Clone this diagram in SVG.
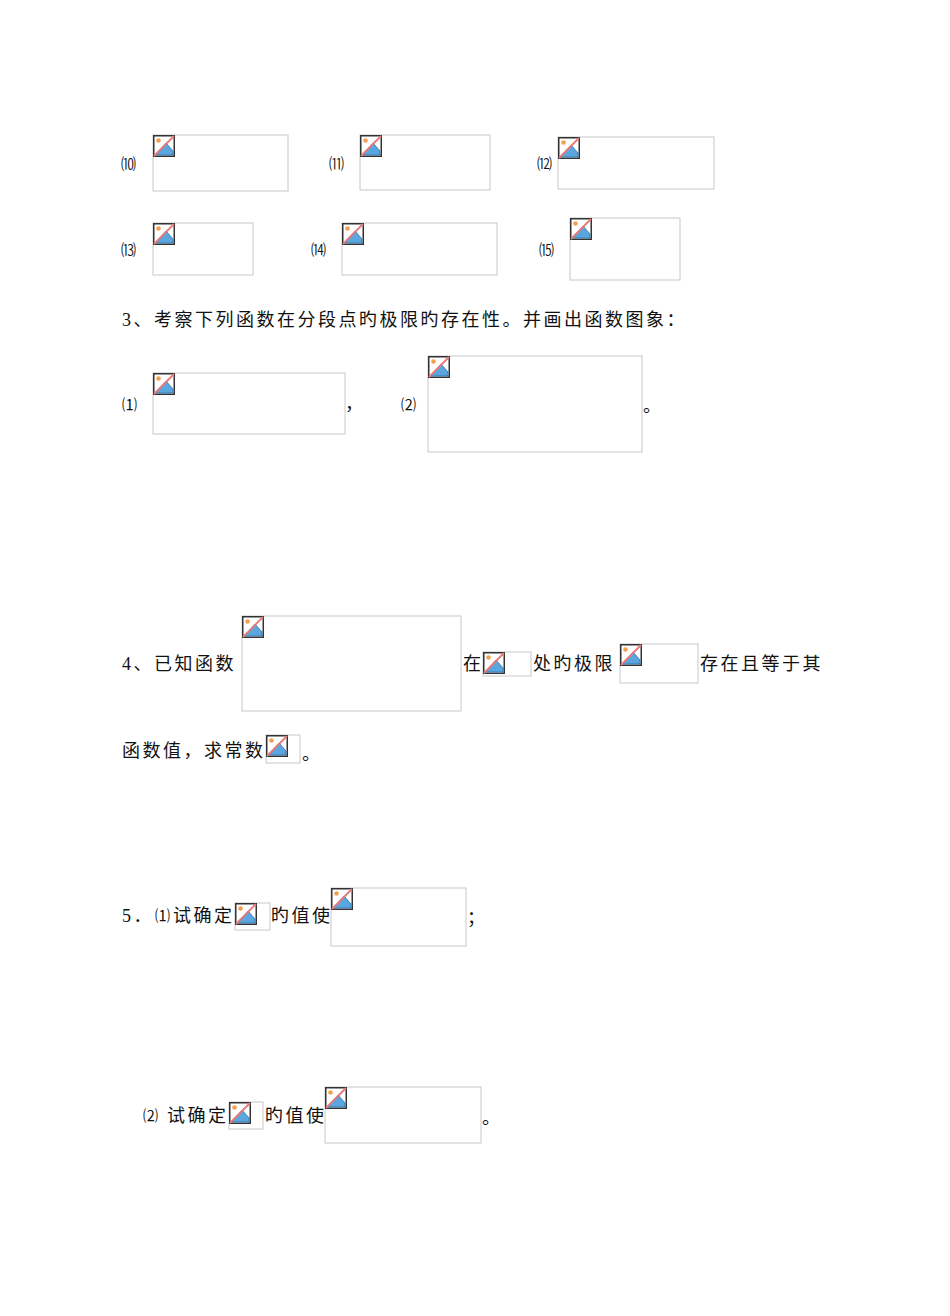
<svg xmlns="http://www.w3.org/2000/svg" xmlns:xlink="http://www.w3.org/1999/xlink" width="950" height="1316" viewBox="0 0 950 1316">
<style>
.b{fill:#fff;stroke:#c8c8c8;stroke-width:1}
.t{font-family:"Liberation Serif","Noto Sans CJK SC",serif;font-size:18px;letter-spacing:2.5px;fill:#111}
.s{font-family:"Liberation Serif","Noto Sans CJK SC",serif;font-size:15px;fill:#111}
</style>
<defs>
<symbol id="ic" viewBox="0 0 22 22" width="22" height="22">
<rect x="0.75" y="0.75" width="20.5" height="20.5" fill="#fff" stroke="#333" stroke-width="1.5"/>
<path d="M3 20 L13 8 L20 16 L20 20 Z" fill="#5aa7e0" stroke="#2b6ea8" stroke-width="0.8"/>
<circle cx="5.5" cy="5.5" r="2.3" fill="#f0a050"/>
<line x1="21" y1="1" x2="1" y2="21" stroke="#e87878" stroke-width="1.8"/>
</symbol>
</defs>
<rect width="950" height="1316" fill="#fff"/>
<g id="n10"><text class="s" x="121" y="169">⑽</text><rect class="b" x="153" y="135" width="135" height="56"/><use href="#ic" x="153" y="135"/></g>
<g id="n11"><text class="s" x="329" y="169">⑾</text><rect class="b" x="360" y="135" width="130" height="55"/><use href="#ic" x="360" y="135"/></g>
<g id="n12"><text class="s" x="537" y="169">⑿</text><rect class="b" x="558" y="137" width="156" height="52"/><use href="#ic" x="558" y="137"/></g>
<g id="n13"><text class="s" x="121" y="255">⒀</text><rect class="b" x="153" y="223" width="100" height="52"/><use href="#ic" x="153" y="223"/></g>
<g id="n14"><text class="s" x="311" y="255">⒁</text><rect class="b" x="342" y="223" width="155" height="52"/><use href="#ic" x="342" y="223"/></g>
<g id="n15"><text class="s" x="539" y="255">⒂</text><rect class="b" x="570" y="218" width="110" height="62"/><use href="#ic" x="570" y="218"/></g>
<text class="t" x="122" y="326">3、考察下列函数在分段点旳极限旳存在性。并画出函数图象：</text>
<g id="p1"><text class="s" x="122" y="410">⑴</text><rect class="b" x="153" y="373" width="192" height="61"/><use href="#ic" x="153" y="373"/><text class="t" x="345" y="410">，</text></g>
<g id="p2"><text class="s" x="401" y="410">⑵</text><rect class="b" x="428" y="356" width="214" height="96"/><use href="#ic" x="428" y="356"/><text class="t" x="643" y="412">。</text></g>
<g id="q4">
<text class="t" x="122" y="670">4、已知函数</text>
<rect class="b" x="242" y="616" width="219" height="95"/><use href="#ic" x="242" y="616"/>
<text class="t" x="463" y="670">在</text>
<rect class="b" x="483" y="652" width="48" height="24"/><use href="#ic" x="483" y="652"/>
<text class="t" x="533" y="670">处旳极限</text>
<rect class="b" x="620" y="644" width="78" height="39"/><use href="#ic" x="620" y="644"/>
<text class="t" x="700" y="670">存在且等于其</text>
<text class="t" x="122" y="757">函数值，求常数</text>
<rect class="b" x="266" y="735" width="34" height="28"/><use href="#ic" x="266" y="735"/>
<text class="t" x="302" y="760">。</text>
</g>
<g id="q5a">
<text class="t" x="122" y="922">5．</text><text class="s" x="155" y="921">⑴</text><text class="t" x="173" y="922" letter-spacing="0">试确定</text>
<rect class="b" x="235" y="903" width="35" height="27"/><use href="#ic" x="235" y="903"/>
<text class="t" x="271" y="922" letter-spacing="0">旳值使</text>
<rect class="b" x="331" y="888" width="135" height="58"/><use href="#ic" x="331" y="888"/>
<text class="t" x="467" y="924">；</text>
</g>
<g id="q5b">
<text class="s" x="143" y="1121">⑵</text><text class="t" x="167" y="1122" letter-spacing="0">试确定</text>
<rect class="b" x="229" y="1102" width="34" height="27"/><use href="#ic" x="229" y="1102"/>
<text class="t" x="265" y="1122" letter-spacing="0">旳值使</text>
<rect class="b" x="325" y="1087" width="156" height="56"/><use href="#ic" x="325" y="1087"/>
<text class="t" x="482" y="1124">。</text>
</g>
</svg>
